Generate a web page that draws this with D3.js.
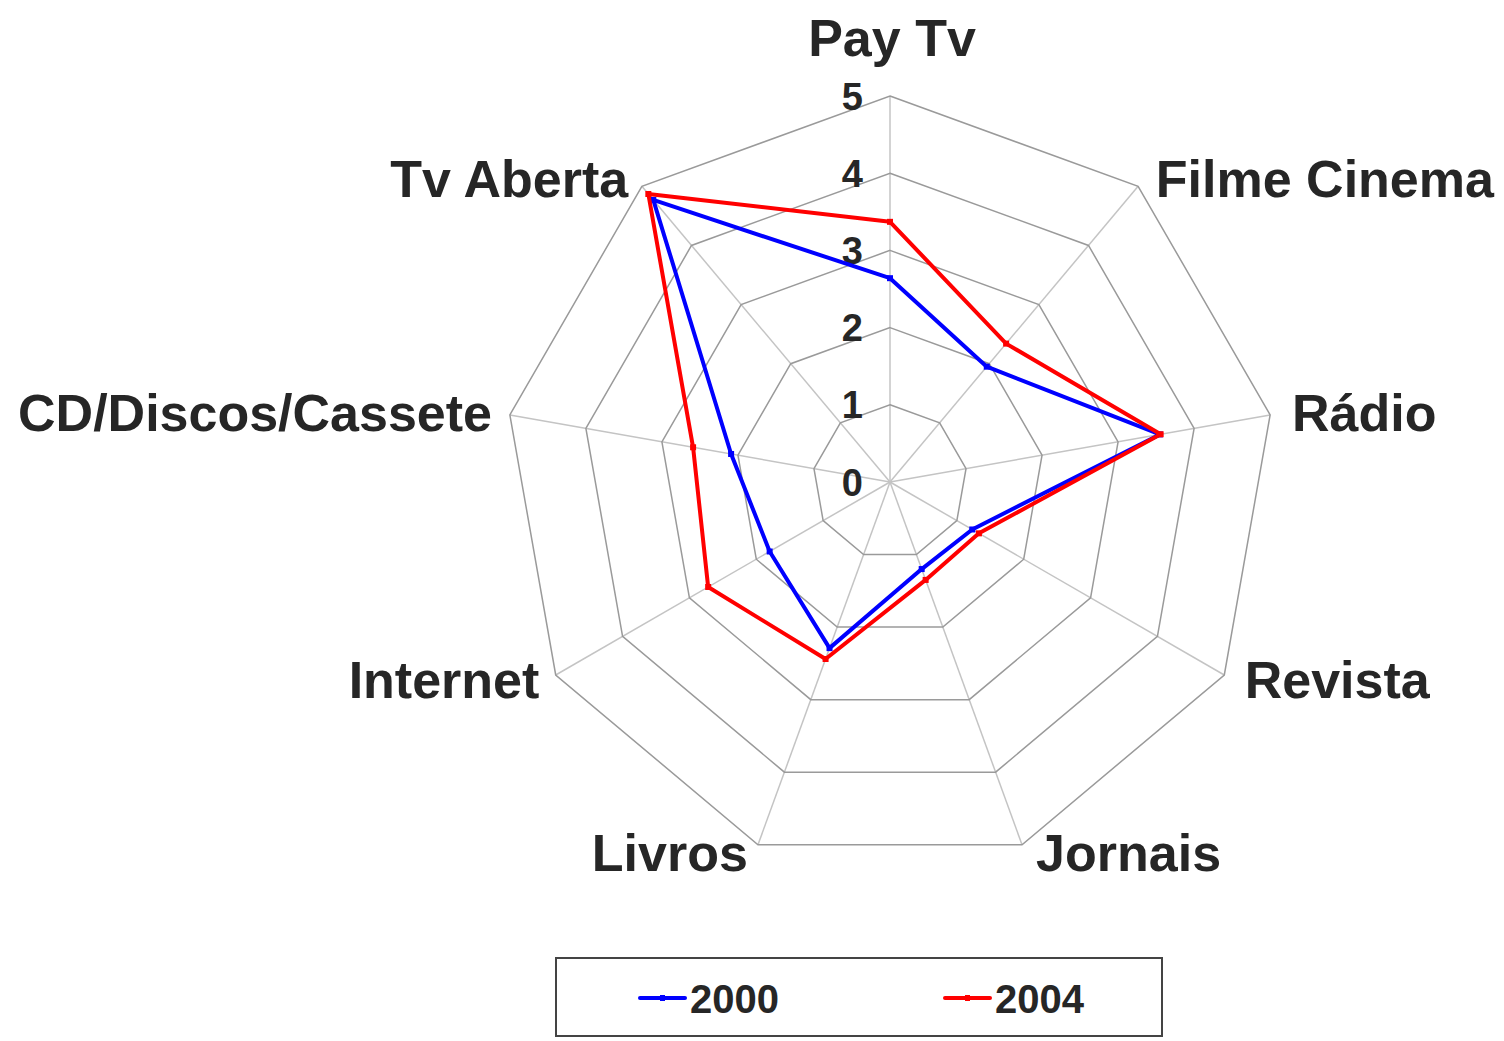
<!DOCTYPE html>
<html>
<head>
<meta charset="utf-8">
<script src="https://cdn.jsdelivr.net/npm/d3@7/dist/d3.min.js"></script>
<style>
  html, body { margin: 0; padding: 0; background: #fff; }
  svg { display: block; }
  text { font-family: "Liberation Sans", Arial, sans-serif; font-weight: bold; fill: #262626; }
</style>
</head>
<body>
<svg id="chart" width="1504" height="1041"></svg>
<script>
const categories = ["Pay Tv", "Filme Cinema", "Rádio", "Revista", "Jornais", "Livros", "Internet", "CD/Discos/Cassete", "Tv Aberta"];
const values2000 = [2.64, 1.95, 3.55, 1.23, 1.2, 2.29, 1.8, 2.09, 4.77];
const values2004 = [3.37, 2.34, 3.56, 1.33, 1.35, 2.44, 2.72, 2.59, 4.87];
const seriesNames = ["2000", "2004"];
const tickValues = [0, 1, 2, 3, 4, 5];

const svg = d3.select("#chart");
const cx = 890, cy = 482, R = 386;
const n = categories.length;

const r = d3.scaleLinear().domain([0, 5]).range([0, R]);
const angle = d3.scalePoint().domain(categories).range([0, 2 * Math.PI * (n - 1) / n]);
const pt = (cat, v) => {
  const a = angle(cat);
  return [cx + r(v) * Math.sin(a), cy - r(v) * Math.cos(a)];
};

const g = svg.append("g");

// spokes
g.selectAll("line.spoke").data(categories).join("line")
  .attr("x1", cx).attr("y1", cy)
  .attr("x2", d => pt(d, 5)[0]).attr("y2", d => pt(d, 5)[1])
  .attr("stroke", "#c4c4c4").attr("stroke-width", 1.5);

// rings
const ringLine = d3.line().curve(d3.curveLinearClosed);
g.selectAll("path.ring").data(tickValues.filter(t => t > 0)).join("path")
  .attr("d", t => ringLine(categories.map(c => pt(c, t))))
  .attr("fill", "none").attr("stroke", "#9a9a9a").attr("stroke-width", 1.5);

// tick labels
g.selectAll("text.tick").data(tickValues).join("text")
  .attr("x", cx - 27).attr("y", t => cy - r(t))
  .attr("dy", "0.36em")
  .attr("text-anchor", "end")
  .style("font-size", "38px")
  .text(t => t);

// category labels
g.selectAll("text.cat").data(categories).join("text")
  .each(function (c, i) {
    const a = angle(c);
    const [ox, oy] = pt(c, 5);
    const s = Math.sin(a), co = Math.cos(a);
    const el = d3.select(this);
    if (i === 0) {
      el.attr("x", ox + 2).attr("y", oy - 40).attr("text-anchor", "middle");
    } else {
      const off = s > 0 ? 10 + 12 * Math.abs(s) : -(6 + 12 * Math.abs(s));
      el.attr("x", ox + off)
        .attr("y", oy + 18 - 9 * co)
        .attr("text-anchor", s > 0 ? "start" : "end");
    }
  })
  .style("font-size", "52px")
  .text(c => c);

// series
const series = [
  { name: seriesNames[0], values: values2000, color: "#0000ff" },
  { name: seriesNames[1], values: values2004, color: "#ff0000" }
];
series.forEach(s => {
  const pts = categories.map((c, i) => pt(c, s.values[i]));
  g.append("path")
    .attr("d", ringLine(pts))
    .attr("fill", "none").attr("stroke", s.color).attr("stroke-width", 4)
    .attr("stroke-linejoin", "round");
  g.selectAll(null).data(pts).join("rect")
    .attr("x", d => d[0] - 3).attr("y", d => d[1] - 3)
    .attr("width", 6).attr("height", 6)
    .attr("fill", s.color);
});

// legend
const lg = svg.append("g");
lg.append("rect").attr("x", 556).attr("y", 958).attr("width", 606).attr("height", 78)
  .attr("fill", "#fff").attr("stroke", "#444").attr("stroke-width", 2);
const legX = [640, 945];
series.forEach((s, i) => {
  const x0 = legX[i], y0 = 998;
  lg.append("line").attr("x1", x0).attr("x2", x0 + 45).attr("y1", y0).attr("y2", y0)
    .attr("stroke", s.color).attr("stroke-width", 4).attr("stroke-linecap", "round");
  lg.append("rect").attr("x", x0 + 20).attr("y", y0 - 3).attr("width", 5).attr("height", 6).attr("fill", s.color);
  lg.append("text").attr("x", x0 + 50).attr("y", y0 + 15)
    .style("font-size", "40px").text(s.name);
});
</script>
</body>
</html>
